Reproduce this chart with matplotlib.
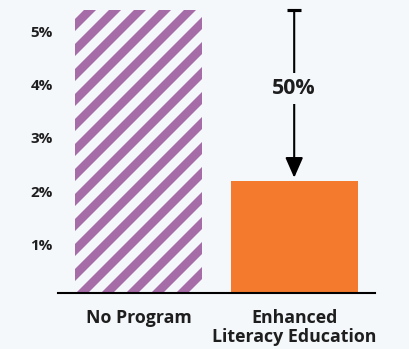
import matplotlib
matplotlib.use("Agg")
import matplotlib.pyplot as plt
import matplotlib.transforms as mtransforms

# Data
categories = ["No Program", "Enhanced\nLiteracy Education"]
values = [5.3, 2.1]
reduction_label = "50%"
tick_values = [1, 2, 3, 4, 5]
tick_labels = ["1%", "2%", "3%", "4%", "5%"]

bg = "#F4F8FB"
purple = "#A66CA8"
orange = "#F47B2D"
dark = "#1E1E1E"

plt.rcParams["font.family"] = ["Open Sans", "DejaVu Sans"]
plt.rcParams["hatch.linewidth"] = 8.2

fig = plt.figure(figsize=(409 / 75, 349 / 75), dpi=75, facecolor=bg)
ax = fig.add_axes([58 / 409, 56 / 349, 317 / 409, 283 / 349], facecolor=bg)

x = range(len(categories))
bars = ax.bar(x, values, width=0.817, color=[bg, orange],
              edgecolor=[purple, orange], linewidth=0)
bars[0].set_hatch("/")

ax.set_xlim(-0.52, 1.52)
ax.set_ylim(0, values[0])

# spines / ticks
for side in ["top", "right", "left"]:
    ax.spines[side].set_visible(False)
ax.spines["bottom"].set_linewidth(2)
ax.spines["bottom"].set_color("black")
ax.spines["bottom"].set_zorder(5)

ax.set_yticks(tick_values)
ax.set_yticklabels(tick_labels, fontsize=14.5, fontweight="bold", color=dark)
ax.tick_params(axis="y", length=0, pad=5)
offset = mtransforms.ScaledTranslation(0, -5 / 75, fig.dpi_scale_trans)
for lbl in ax.get_yticklabels():
    lbl.set_transform(lbl.get_transform() + offset)

ax.set_xticks(list(x))
ax.set_xticklabels(categories, fontsize=17, fontweight="bold",
                   color=dark, linespacing=1.12)
ax.tick_params(axis="x", length=0, pad=15)

# reduction arrow
ax.annotate("", xy=(1, values[1]), xytext=(1, values[0]),
            arrowprops=dict(arrowstyle="-|>,head_length=0.82,head_width=0.36",
                            color="black", lw=2, mutation_scale=20,
                            shrinkA=0, shrinkB=3))
ax.hlines(values[0], 1 - 0.045, 1 + 0.045, color="black", lw=3, clip_on=False)
ax.text(1, 3.83, reduction_label, ha="center", va="center", fontsize=20.5,
        fontweight="bold", color=dark,
        bbox=dict(boxstyle="square,pad=0.25", fc=bg, ec="none"))

fig.savefig("out.png", dpi=75, facecolor=bg)
